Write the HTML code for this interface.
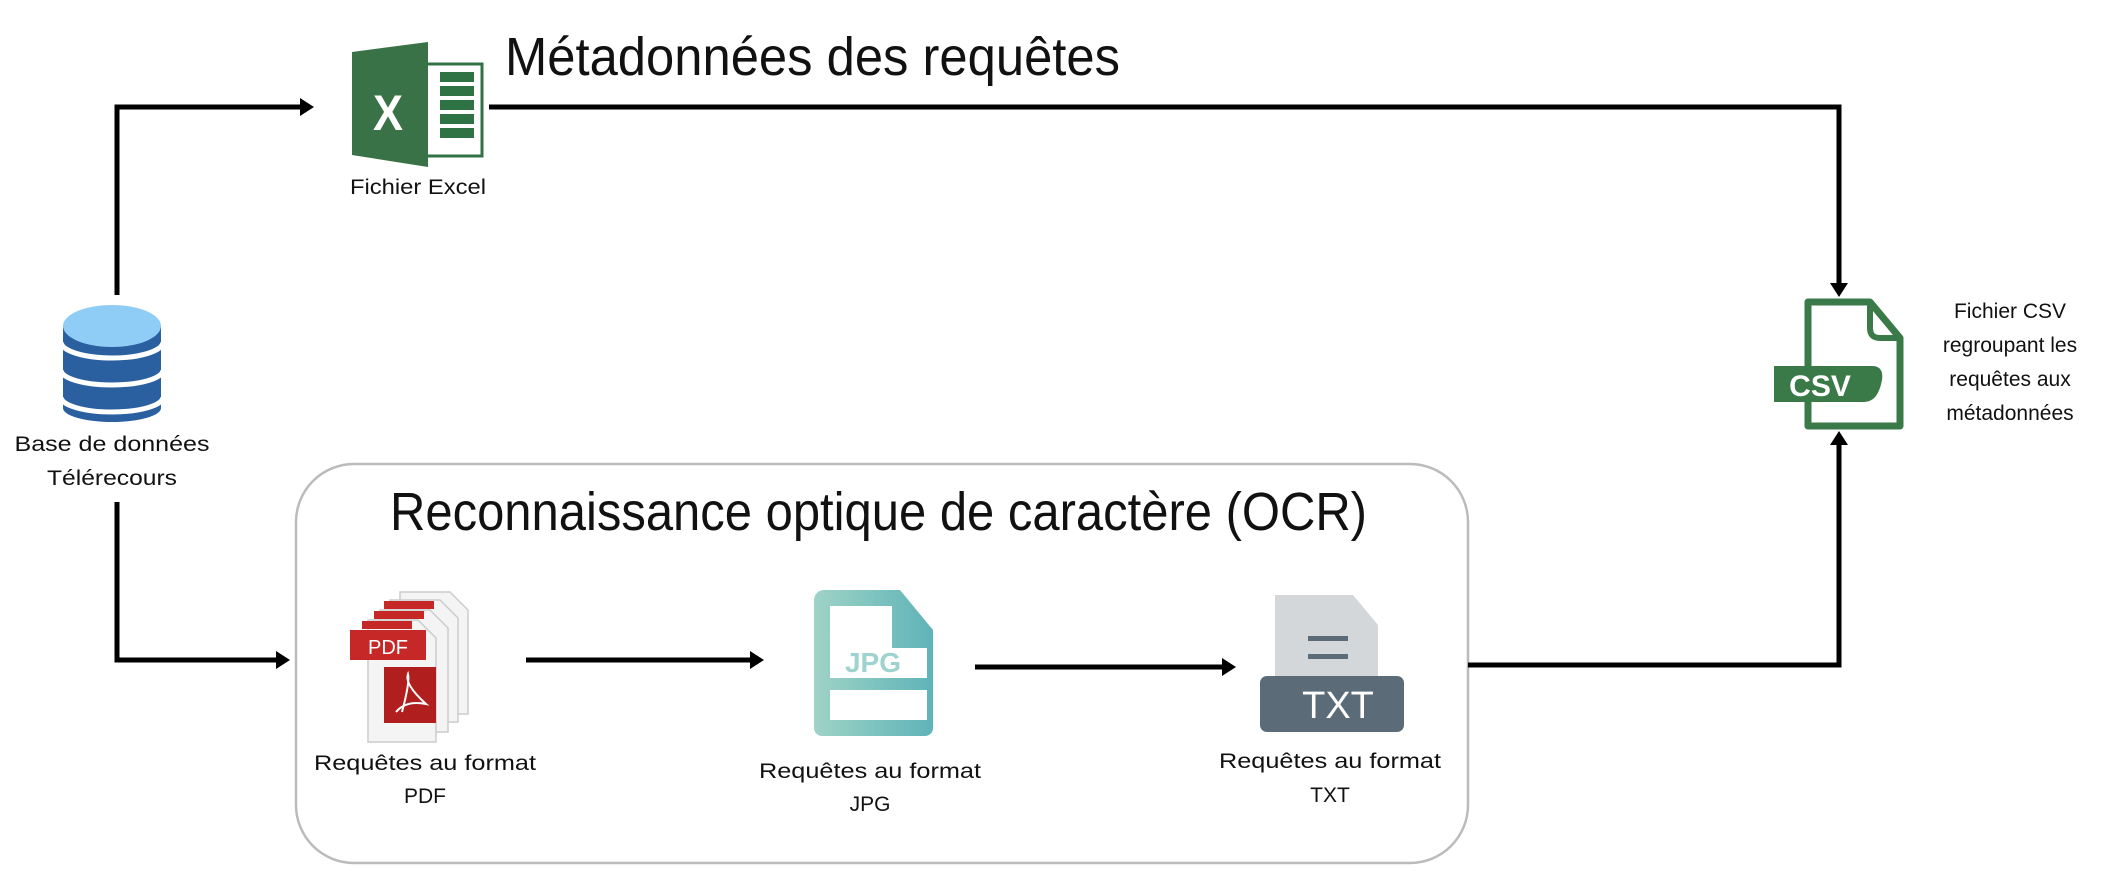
<!DOCTYPE html>
<html><head><meta charset="utf-8"><style>
html,body{margin:0;padding:0;background:#fff;}
svg{display:block;}
text{font-family:"Liberation Sans",sans-serif;fill:#111;}
</style></head><body>
<svg width="2116" height="886" viewBox="0 0 2116 886" xmlns="http://www.w3.org/2000/svg">
<defs>
<linearGradient id="jg" x1="0" x2="1"><stop offset="0" stop-color="#9fd3c6"/><stop offset="1" stop-color="#5fb3b8"/></linearGradient>
</defs>
<rect x="296" y="464" width="1172" height="399" rx="58" fill="#fff" stroke="#bbb" stroke-width="2.5"/>
<g stroke="#000" stroke-width="5" fill="none">
<polyline points="117,295 117,107 300,107"/>
<polyline points="489,107 1839,107 1839,283"/>
<polyline points="117,502 117,660 276,660"/>
<line x1="526" y1="660" x2="750" y2="660"/>
<line x1="975" y1="667" x2="1222" y2="667"/>
<polyline points="1468,665 1839,665 1839,445"/>
</g>
<g fill="#000">
<polygon points="300,98 314,107 300,116"/>
<polygon points="276,651 290,660 276,669"/>
<polygon points="750,651 764,660 750,669"/>
<polygon points="1222,658 1236,667 1222,676"/>
<polygon points="1830,283 1839,297 1848,283"/>
<polygon points="1830,445 1839,431 1848,445"/>
</g>
<!-- Excel icon -->
<rect x="420" y="64" width="62" height="92" fill="#fff" stroke="#2f7244" stroke-width="3"/>
<g fill="#2f7244">
<rect x="440" y="72" width="34" height="10"/><rect x="440" y="86" width="34" height="10"/><rect x="440" y="100" width="34" height="10"/><rect x="440" y="114" width="34" height="10"/><rect x="440" y="128" width="34" height="10"/>
</g>
<polygon points="352,52 428,42 428,167 352,155" fill="#3a7248"/>
<text x="388" y="130" font-size="50" font-weight="bold" text-anchor="middle" style="fill:#fff" textLength="30" lengthAdjust="spacingAndGlyphs">X</text>
<text x="418" y="194" font-size="21" text-anchor="middle" textLength="136" lengthAdjust="spacingAndGlyphs">Fichier Excel</text>
<text x="505" y="75" font-size="54" textLength="615" lengthAdjust="spacingAndGlyphs">Métadonnées des requêtes</text>
<!-- Database -->
<path d="M63,326 h98 v82 a49,14 0 0 1 -98,0z" fill="#2a5fa0"/>
<g stroke="#fff" stroke-width="5" fill="none">
<path d="M61,342 a51,16 0 0 0 102,0"/>
<path d="M61,370 a51,15 0 0 0 102,0"/>
<path d="M61,397 a51,15 0 0 0 102,0"/>
</g>
<ellipse cx="112" cy="326" rx="49" ry="21" fill="#90cdf6"/>
<text x="112" y="451" font-size="21" text-anchor="middle" textLength="195" lengthAdjust="spacingAndGlyphs">Base de données</text>
<text x="112" y="485" font-size="21" text-anchor="middle" textLength="130" lengthAdjust="spacingAndGlyphs">Télérecours</text>
<text x="390" y="530" font-size="54" textLength="977" lengthAdjust="spacingAndGlyphs">Reconnaissance optique de caractère (OCR)</text>
<!-- PDF stack -->
<g stroke="#ccc" stroke-width="1.5" fill="#f4f4f4">
<path d="M400,592 h50 l18,18 v104 h-68z"/>
<path d="M390,600 h50 l18,18 v104 h-68z"/>
<path d="M380,610 h50 l18,18 v104 h-68z"/>
<path d="M368,620 h50 l18,18 v104 h-68z"/>
</g>
<g fill="#c62828">
<rect x="384" y="601" width="50" height="8"/><rect x="374" y="611" width="50" height="8"/><rect x="362" y="621" width="50" height="8"/>
<rect x="350" y="630" width="76" height="30"/>
<rect x="384" y="667" width="52" height="56" fill="#b01e1e"/>
</g>
<text x="388" y="654" font-size="20" text-anchor="middle" style="fill:#fff">PDF</text>
<path d="M402,712 q8,-30 6,-38 q-4,10 18,30 q-20,-4 -30,8" stroke="#fff" stroke-width="2" fill="none"/>
<text x="425" y="770" font-size="21" text-anchor="middle" textLength="222" lengthAdjust="spacingAndGlyphs">Requêtes au format</text>
<text x="425" y="803" font-size="21" text-anchor="middle">PDF</text>
<!-- JPG -->
<path d="M814,600 a10,10 0 0 1 10,-10 h76 l33,40 v98 a8,8 0 0 1 -8,8 h-103 a8,8 0 0 1 -8,-8z" fill="url(#jg)"/>
<path d="M830,606 h62 v42 h35 v30 h-97z" fill="#fff"/>
<text x="873" y="672" font-size="28" font-weight="bold" text-anchor="middle" style="fill:#9fd3cf">JPG</text>
<rect x="830" y="690" width="97" height="30" fill="#fff"/>
<text x="870" y="778" font-size="21" text-anchor="middle" textLength="222" lengthAdjust="spacingAndGlyphs">Requêtes au format</text>
<text x="870" y="811" font-size="21" text-anchor="middle">JPG</text>
<!-- TXT -->
<path d="M1275,595 h78 l25,30 v55 h-103z" fill="#d3d7da"/>
<rect x="1308" y="636" width="40" height="5" fill="#5b6b78"/>
<rect x="1308" y="654" width="40" height="5" fill="#5b6b78"/>
<rect x="1260" y="676" width="144" height="56" rx="7" fill="#5b6b78"/>
<text x="1338" y="718" font-size="38" text-anchor="middle" style="fill:#fff">TXT</text>
<text x="1330" y="768" font-size="21" text-anchor="middle" textLength="222" lengthAdjust="spacingAndGlyphs">Requêtes au format</text>
<text x="1330" y="802" font-size="21" text-anchor="middle">TXT</text>
<!-- CSV -->
<path d="M1808,302 h62 l30,36 v88 h-92z" fill="#fff" stroke="#3a7a48" stroke-width="7" stroke-linejoin="round"/>
<path d="M1870,302 v26 q0,10 10,10 h20" fill="none" stroke="#3a7a48" stroke-width="6"/>
<path d="M1774,366 h98 q12,0 10,14 q-4,22 -18,22 h-90z" fill="#3a7a48"/>
<text x="1820" y="396" font-size="30" font-weight="bold" text-anchor="middle" style="fill:#fff">CSV</text>
<g font-size="21" text-anchor="middle">
<text x="2010" y="318">Fichier CSV</text>
<text x="2010" y="352">regroupant les</text>
<text x="2010" y="386">requêtes aux</text>
<text x="2010" y="420">métadonnées</text>
</g>
</svg>
</body></html>
